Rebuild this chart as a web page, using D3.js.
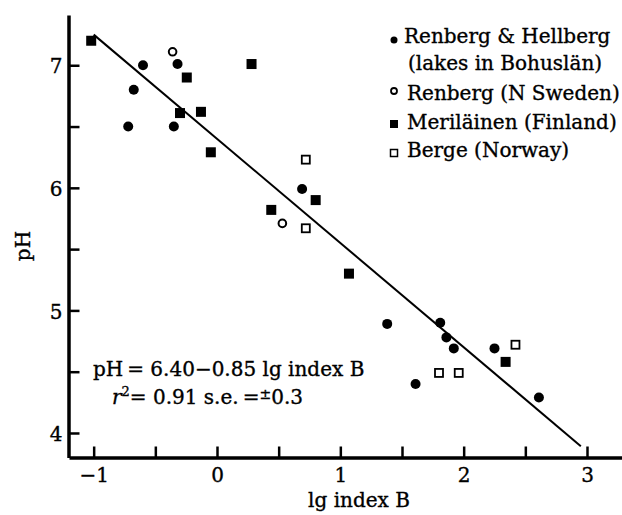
<!DOCTYPE html>
<html>
<head>
<meta charset="utf-8">
<script src="https://cdn.jsdelivr.net/npm/d3@7"></script>
<style>
  html, body { margin: 0; padding: 0; background: #fff; }
  svg { display: block; font-family: "DejaVu Serif", "Liberation Serif", serif; }
  svg text { stroke: #000; stroke-width: 0.35px; }
</style>
</head>
<body>
<svg id="chart" width="622" height="515"></svg>
<script>
// lg index B vs. lake-water pH, four sediment data sets
const renbergHellbergX  = [-0.60, -0.675, -0.72, -0.32, -0.35, 0.69, 1.38, 1.81, 1.86, 1.92, 1.61, 2.25, 2.61];
const renbergHellbergPH = [7.00, 6.80, 6.50, 7.01, 6.50, 5.99, 4.89, 4.90, 4.78, 4.69, 4.40, 4.69, 4.29];

const renbergNSwedenX  = [-0.36, 0.53];
const renbergNSwedenPH = [7.11, 5.71];

const merilainenX  = [-1.02, -0.245, -0.30, -0.13, -0.05, 0.28, 0.44, 0.80, 1.07, 2.34];
const merilainenPH = [7.20, 6.90, 6.61, 6.62, 6.29, 7.01, 5.82, 5.90, 5.30, 4.58];

const bergeX  = [0.72, 0.72, 1.80, 1.96, 2.42];
const bergePH = [6.23, 5.67, 4.49, 4.49, 4.72];

// regression: pH = 6.40 - 0.85 lg index B
const fitIntercept = 6.40;
const fitSlope = -0.85;
const fitRange = [-1, 2.95];

const xTicks = [-1, -0.5, 0, 0.5, 1, 1.5, 2, 2.5, 3];
const xTickLabels = ["−1", "", "0", "", "1", "", "2", "", "3"];
const yTicks = [4, 4.5, 5, 5.5, 6, 6.5, 7];
const yTickLabels = ["4", "", "5", "", "6", "", "7"];

const legendLabels = [
  ["Renberg & Hellberg", "(lakes in Bohuslän)"],
  ["Renberg (N Sweden)"],
  ["Meriläinen (Finland)"],
  ["Berge (Norway)"]
];

const svg = d3.select("#chart");
const x = d3.scaleLinear().domain([-1.2, 3.3]).range([69, 624]);
const y = d3.scaleLinear().domain([3.8, 7.41]).range([457.5, 15]);

// axes with inward ticks
const xAxis = d3.axisBottom(x)
  .tickValues(xTicks)
  .tickFormat((d, i) => xTickLabels[i])
  .tickSizeInner(-11).tickSizeOuter(0).tickPadding(10);
const yAxis = d3.axisLeft(y)
  .tickValues(yTicks)
  .tickFormat((d, i) => yTickLabels[i])
  .tickSizeInner(-11).tickSizeOuter(0).tickPadding(6);

const gx = svg.append("g").attr("transform", "translate(0,457.5)").call(xAxis);
const gy = svg.append("g").attr("transform", "translate(68.5,0)").call(yAxis);
[gx, gy].forEach(g => {
  g.select(".domain").attr("stroke", "#000").attr("stroke-width", 3.5);
  g.selectAll(".tick line").attr("stroke", "#000").attr("stroke-width", 2.5);
  g.selectAll(".tick text")
    .attr("fill", "#000")
    .style("font-family", "DejaVu Serif, serif")
    .style("font-size", "20px");
});
gy.selectAll(".tick text").attr("dy", "0.38em");

// axis titles
svg.append("text")
  .attr("x", 359).attr("y", 507)
  .attr("text-anchor", "middle")
  .style("font-size", "20px")
  .text("lg index B");
svg.append("text")
  .attr("transform", "translate(30,246) rotate(-90)")
  .attr("text-anchor", "middle")
  .style("font-size", "20px")
  .text("pH");

// fitted line
svg.append("line")
  .attr("x1", x(fitRange[0])).attr("y1", y(fitIntercept + fitSlope * fitRange[0]))
  .attr("x2", x(fitRange[1])).attr("y2", y(fitIntercept + fitSlope * fitRange[1]))
  .attr("stroke", "#000").attr("stroke-width", 2);

// points
const pts = (xs, ys) => xs.map((v, i) => ({ x: v, y: ys[i] }));

svg.append("g").selectAll("circle")
  .data(pts(renbergHellbergX, renbergHellbergPH)).join("circle")
  .attr("cx", d => x(d.x)).attr("cy", d => y(d.y)).attr("r", 5)
  .attr("fill", "#000");

svg.append("g").selectAll("circle")
  .data(pts(renbergNSwedenX, renbergNSwedenPH)).join("circle")
  .attr("cx", d => x(d.x)).attr("cy", d => y(d.y)).attr("r", 3.8)
  .attr("fill", "#fff").attr("stroke", "#000").attr("stroke-width", 2);

svg.append("g").selectAll("rect")
  .data(pts(merilainenX, merilainenPH)).join("rect")
  .attr("x", d => x(d.x) - 5).attr("y", d => y(d.y) - 5)
  .attr("width", 10).attr("height", 10)
  .attr("fill", "#000");

svg.append("g").selectAll("rect")
  .data(pts(bergeX, bergePH)).join("rect")
  .attr("x", d => x(d.x) - 4).attr("y", d => y(d.y) - 4)
  .attr("width", 8).attr("height", 8)
  .attr("fill", "#fff").attr("stroke", "#000").attr("stroke-width", 1.8);

// equation
const eq = svg.append("text").style("font-size", "20px");
eq.append("tspan").attr("x", 93).attr("y", 376).text("pH\u2009= 6.40−0.85 lg index B");
const eq2 = svg.append("text").style("font-size", "20px").attr("x", 112).attr("y", 404);
eq2.append("tspan").style("font-style", "italic").text("r");
eq2.append("tspan").attr("dy", -8).style("font-size", "13px").text("2");
eq2.append("tspan").attr("dy", 8).text("= 0.91 s.e.\u2009=");
eq2.append("tspan").attr("dy", -5).style("font-size", "14px").text("±");
eq2.append("tspan").attr("dy", 5).text("0.3");

// legend
const lg = svg.append("g");
const lx = 394;
lg.append("circle").attr("cx", lx).attr("cy", 40).attr("r", 3.5).attr("fill", "#000");
lg.append("text").attr("x", 404).attr("y", 43).style("font-size", "20px").text(legendLabels[0][0]);
lg.append("text").attr("x", 408).attr("y", 70).style("font-size", "20px").text(legendLabels[0][1]);

lg.append("circle").attr("cx", lx).attr("cy", 91).attr("r", 3).attr("fill", "#fff")
  .attr("stroke", "#000").attr("stroke-width", 1.8);
lg.append("text").attr("x", 407).attr("y", 100).style("font-size", "20px").text(legendLabels[1][0]);

lg.append("rect").attr("x", lx - 4).attr("y", 120).attr("width", 8).attr("height", 8).attr("fill", "#000");
lg.append("text").attr("x", 407).attr("y", 129).style("font-size", "20px").text(legendLabels[2][0]);

lg.append("rect").attr("x", lx - 3.5).attr("y", 149.5).attr("width", 7).attr("height", 7)
  .attr("fill", "#fff").attr("stroke", "#000").attr("stroke-width", 1.5);
lg.append("text").attr("x", 407).attr("y", 157).style("font-size", "20px").text(legendLabels[3][0]);
</script>
</body>
</html>
